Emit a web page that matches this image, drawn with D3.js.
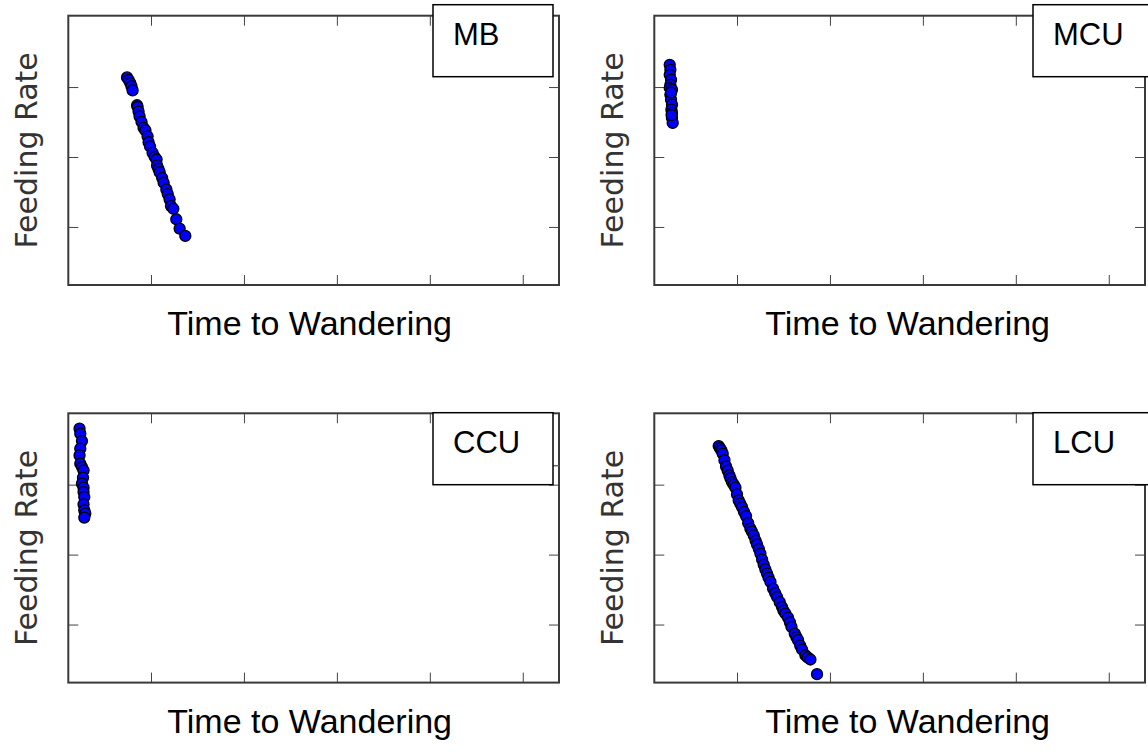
<!DOCTYPE html>
<head>
<meta charset="utf-8">
<script src="https://d3js.org/d3.v7.min.js"></script>
<style>
  body { margin: 0; background: #fff; }
  text.title { font-family: "Liberation Sans", Arial, sans-serif; font-size: 34px; fill: #000; }
  text.ylab { font-family: "DejaVu Sans", sans-serif; font-size: 30px; fill: #333; }
  text.tag { font-family: "Liberation Sans", Arial, sans-serif; font-size: 31px; fill: #000; }
  .tick line { stroke: #444; stroke-width: 1; }
  path.domain { display: none; }
</style>
</head>
<body>
<div id="chart"></div>
<script>
// values, in tick units (ticks are unlabelled)
const xTicks = [1, 2, 3, 4, 5];
const yTicks = [1, 2, 3];

const mbTime = [0.742, 0.760, 0.777, 0.790, 0.802, 0.850, 0.856, 0.866, 0.877, 0.898, 0.920, 0.940, 0.963, 0.974, 0.990, 1.017, 1.040, 1.060, 1.065, 1.080, 1.093, 1.120, 1.136, 1.165, 1.180, 1.200, 1.215, 1.240, 1.272, 1.308, 1.369];
const mbFeed = [3.137, 3.100, 3.057, 3.010, 2.952, 2.740, 2.715, 2.650, 2.581, 2.500, 2.416, 2.380, 2.296, 2.211, 2.150, 2.060, 2.000, 1.964, 1.879, 1.830, 1.783, 1.700, 1.632, 1.537, 1.470, 1.395, 1.299, 1.260, 1.110, 0.977, 0.872];

const mcuTime = [0.276, 0.283, 0.276, 0.290, 0.283, 0.276, 0.300, 0.283, 0.290, 0.300, 0.294, 0.300, 0.300, 0.308, 0.290, 0.296];
const mcuFeed = [3.318, 3.246, 3.175, 3.104, 3.033, 2.986, 2.962, 2.890, 2.819, 2.748, 2.677, 2.630, 2.558, 2.487, 2.920, 2.600];

const ccuTime = [0.231, 0.239, 0.257, 0.239, 0.231, 0.239, 0.257, 0.274, 0.268, 0.257, 0.274, 0.274, 0.282, 0.274, 0.282, 0.293, 0.282];
const ccuFeed = [3.800, 3.729, 3.623, 3.514, 3.419, 3.300, 3.251, 3.204, 3.100, 3.014, 2.957, 2.894, 2.823, 2.719, 2.633, 2.586, 2.529];

const lcuTime = [0.803, 0.818, 0.832, 0.846, 0.865, 0.882, 0.900, 0.918, 0.930, 0.946, 0.965, 0.983, 1.000, 1.018, 1.035, 1.054, 1.075, 1.097, 1.120, 1.144, 1.160, 1.180, 1.200, 1.215, 1.235, 1.252, 1.270, 1.287, 1.305, 1.323, 1.340, 1.360, 1.388, 1.410, 1.431, 1.460, 1.484, 1.500, 1.521, 1.549, 1.570, 1.586, 1.621, 1.640, 1.657, 1.680, 1.700, 1.736, 1.760, 1.790, 1.861];
const lcuFeed = [3.551, 3.520, 3.490, 3.443, 3.350, 3.261, 3.200, 3.133, 3.090, 3.037, 3.000, 2.957, 2.860, 2.776, 2.730, 2.680, 2.610, 2.551, 2.450, 2.371, 2.330, 2.276, 2.200, 2.147, 2.080, 2.014, 1.930, 1.857, 1.790, 1.729, 1.670, 1.609, 1.514, 1.450, 1.394, 1.320, 1.251, 1.200, 1.157, 1.100, 1.030, 0.966, 0.871, 0.820, 0.776, 0.700, 0.643, 0.561, 0.530, 0.500, 0.290];

const panelNames = ["MB", "MCU", "CCU", "LCU"];
const panelTimes = [mbTime, mcuTime, ccuTime, lcuTime];
const panelFeeds = [mbFeed, mcuFeed, ccuFeed, lcuFeed];

const width = 1148, height = 756;
const colLeft = [68.3, 654.3];
const plotW = 490.7;
const rowTop = [15.7, 413.3];
const plotH = 269.3;

const svg = d3.select("#chart").append("svg")
    .attr("width", width)
    .attr("height", height);

panelNames.forEach((name, i) => {
    let col = i % 2, row = Math.floor(i / 2);
    let x0 = colLeft[col], y0 = rowTop[row];

    let x = d3.scaleLinear().domain([0.11, 5.39]).range([x0, x0 + plotW]);
    let y = d3.scaleLinear().domain([0.17, 4.02]).range([y0 + plotH, y0]);

    let g = svg.append("g").attr("class", "panel");

    // ticks on all four sides, pointing inwards
    g.append("g").attr("transform", `translate(0,${y0 + plotH})`)
        .call(d3.axisBottom(x).tickValues(xTicks).tickSize(-10).tickFormat(""));
    g.append("g").attr("transform", `translate(0,${y0})`)
        .call(d3.axisTop(x).tickValues(xTicks).tickSize(-10).tickFormat(""));
    g.append("g").attr("transform", `translate(${x0},0)`)
        .call(d3.axisLeft(y).tickValues(yTicks).tickSize(-10).tickFormat(""));
    g.append("g").attr("transform", `translate(${x0 + plotW},0)`)
        .call(d3.axisRight(y).tickValues(yTicks).tickSize(-10).tickFormat(""));

    g.append("rect")
        .attr("x", x0).attr("y", y0)
        .attr("width", plotW).attr("height", plotH)
        .style("fill", "none")
        .style("stroke", "#3a3a3a")
        .style("stroke-width", 2);

    let pts = panelTimes[i].map((t, k) => ({ t: t, f: panelFeeds[i][k] }));
    g.selectAll("circle.dot")
        .data(pts)
        .enter()
        .append("circle")
        .attr("class", "dot")
        .attr("cx", d => x(d.t))
        .attr("cy", d => y(d.f))
        .attr("r", 5.5)
        .style("fill", "#0000ff")
        .style("stroke", "#000")
        .style("stroke-width", 1.3);

    // axis titles
    g.append("text")
        .attr("class", "title")
        .attr("x", x0 + plotW / 2 + (col == 0 ? -4 : 8))
        .attr("y", y0 + plotH + 50)
        .style("text-anchor", "middle")
        .text("Time to Wandering");

    g.append("text")
        .attr("class", "ylab")
        .attr("transform", `translate(${x0 - 31.8},${y0 + plotH / 2}) rotate(-90)`)
        .style("text-anchor", "middle")
        .text("Feeding Rate");

    // label box
    let bx = x0 + plotW - (col == 0 ? 126 : 112);
    let by = row == 0 ? y0 - 11 : y0 - 0.6;
    if (name == "CCU") {
        g.append("line")
            .attr("x1", bx + 120).attr("x2", x0 + plotW)
            .attr("y1", by + 53).attr("y2", by + 53)
            .style("stroke", "#666").style("stroke-width", 1.5);
    }
    g.append("rect")
        .attr("x", bx).attr("y", by)
        .attr("width", 120).attr("height", 72)
        .style("fill", "#fff")
        .style("stroke", "#000")
        .style("stroke-width", 1.5);
    g.append("text")
        .attr("class", "tag")
        .attr("x", bx + 20)
        .attr("y", by + 40)
        .text(name);
});
</script>
</body>
